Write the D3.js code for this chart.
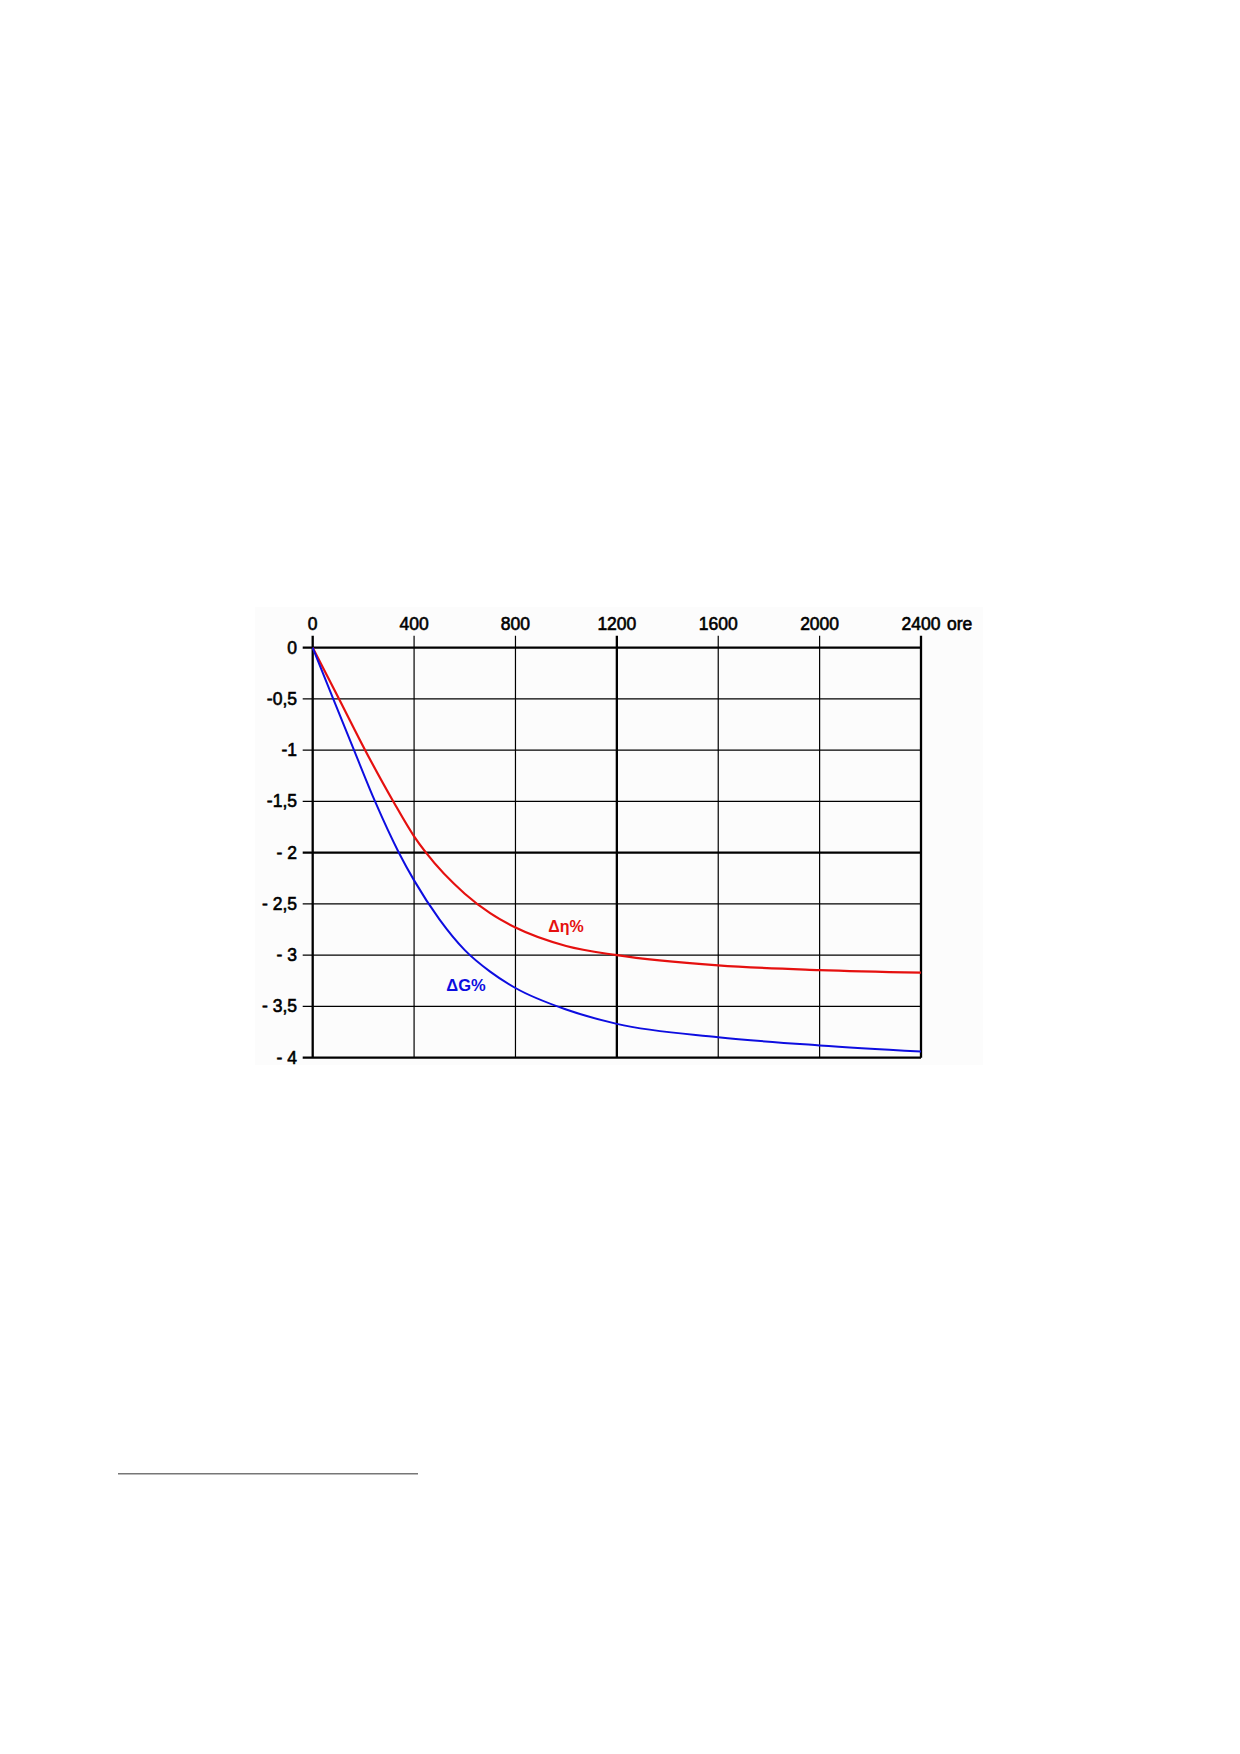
<!DOCTYPE html>
<html>
<head>
<meta charset="utf-8">
<script src="https://cdn.jsdelivr.net/npm/d3@7"></script>
<style>
  body { margin: 0; background: #fff; }
  text { font-family: "Liberation Sans", Arial, sans-serif; }
</style>
</head>
<body>
<div id="chart"></div>
<script>
// ore (hours) on top axis, percent change on left axis
var xTicks = [0, 400, 800, 1200, 1600, 2000, 2400];
var xTickLabels = ["0", "400", "800", "1200", "1600", "2000", "2400"];
var yTicks = [0, -0.5, -1, -1.5, -2, -2.5, -3, -3.5, -4];
var yTickLabels = ["0", "-0,5", "-1", "-1,5", "- 2", "- 2,5", "- 3", "- 3,5", "- 4"];
var thickX = [0, 1200, 2400];
var thickY = [0, -2, -4];

// Δη% (red)
var etaHours = [0, 104, 207, 318, 400, 447, 600, 700, 800, 1000, 1200, 1600, 2000, 2400];
var etaValues = [0, -0.5, -1, -1.5, -1.84, -2, -2.40, -2.59, -2.73, -2.91, -3.0, -3.10, -3.145, -3.17];

// ΔG% (blue)
var gHours = [0, 81, 163, 246, 340, 400, 500, 600, 700, 800, 1000, 1200, 1600, 2000, 2400];
var gValues = [0, -0.5, -1, -1.5, -2, -2.27, -2.65, -2.95, -3.16, -3.32, -3.53, -3.67, -3.80, -3.88, -3.94];

var W = 1240, H = 1754;
var svg = d3.select("#chart").append("svg")
    .attr("width", W)
    .attr("height", H);

var x = d3.scaleLinear().domain([0, 2400]).range([312.7, 921]);
var y = d3.scaleLinear().domain([0, -4]).range([647.7, 1057.7]);

// faint picture background
svg.append("rect")
    .attr("x", 255).attr("y", 607)
    .attr("width", 728).attr("height", 458)
    .attr("fill", "#fcfcfc");

// vertical grid lines (with tick above top)
svg.selectAll(".vgrid")
    .data(xTicks)
    .enter()
    .append("line")
    .attr("x1", function(d){ return x(d) })
    .attr("x2", function(d){ return x(d) })
    .attr("y1", y(0) - 12)
    .attr("y2", y(-4))
    .attr("stroke", "#000")
    .attr("stroke-width", function(d){ return thickX.indexOf(d) >= 0 ? 2.3 : 1.2 });

// horizontal grid lines (with tick to the left)
svg.selectAll(".hgrid")
    .data(yTicks)
    .enter()
    .append("line")
    .attr("x1", x(0) - 10)
    .attr("x2", x(2400))
    .attr("y1", function(d){ return y(d) })
    .attr("y2", function(d){ return y(d) })
    .attr("stroke", "#000")
    .attr("stroke-width", function(d){ return thickY.indexOf(d) >= 0 ? 2.3 : 1.2 });

// x labels
svg.selectAll(".xlab")
    .data(xTicks)
    .enter()
    .append("text")
    .attr("x", function(d){ return x(d) })
    .attr("y", 630)
    .attr("text-anchor", "middle")
    .attr("font-size", 17.5)
    .attr("fill", "#000")
    .attr("stroke", "#000")
    .attr("stroke-width", 0.6)
    .text(function(d, i){ return xTickLabels[i] });

svg.append("text")
    .attr("x", 947)
    .attr("y", 630)
    .attr("font-size", 17.5)
    .attr("fill", "#000")
    .attr("stroke", "#000")
    .attr("stroke-width", 0.6)
    .text("ore");

// y labels
svg.selectAll(".ylab")
    .data(yTicks)
    .enter()
    .append("text")
    .attr("x", 297)
    .attr("y", function(d){ return y(d) + 6 })
    .attr("text-anchor", "end")
    .attr("font-size", 17.5)
    .attr("fill", "#000")
    .attr("stroke", "#000")
    .attr("stroke-width", 0.6)
    .text(function(d, i){ return yTickLabels[i] });

var line = d3.line()
    .x(function(d){ return x(d[0]) })
    .y(function(d){ return y(d[1]) })
    .curve(d3.curveMonotoneX);

var etaData = etaHours.map(function(h, i){ return [h, etaValues[i]] });
var gData = gHours.map(function(h, i){ return [h, gValues[i]] });

svg.append("path")
    .datum(etaData)
    .attr("d", line)
    .attr("fill", "none")
    .attr("stroke", "#e5100f")
    .attr("stroke-width", 2.2);

svg.append("path")
    .datum(gData)
    .attr("d", line)
    .attr("fill", "none")
    .attr("stroke", "#0d0de0")
    .attr("stroke-width", 2);

// series labels
svg.append("text")
    .attr("x", 566)
    .attr("y", 932)
    .attr("text-anchor", "middle")
    .attr("font-size", 16)
    .attr("font-weight", "bold")
    .attr("fill", "#e5100f")
    .text("Δη%");

svg.append("text")
    .attr("x", 466)
    .attr("y", 991)
    .attr("text-anchor", "middle")
    .attr("font-size", 16.5)
    .attr("font-weight", "bold")
    .attr("fill", "#0d0de0")
    .text("ΔG%");

// footnote separator
svg.append("line")
    .attr("x1", 118).attr("x2", 418)
    .attr("y1", 1473.7).attr("y2", 1473.7)
    .attr("stroke", "#777")
    .attr("stroke-width", 1.5);
</script>
</body>
</html>
